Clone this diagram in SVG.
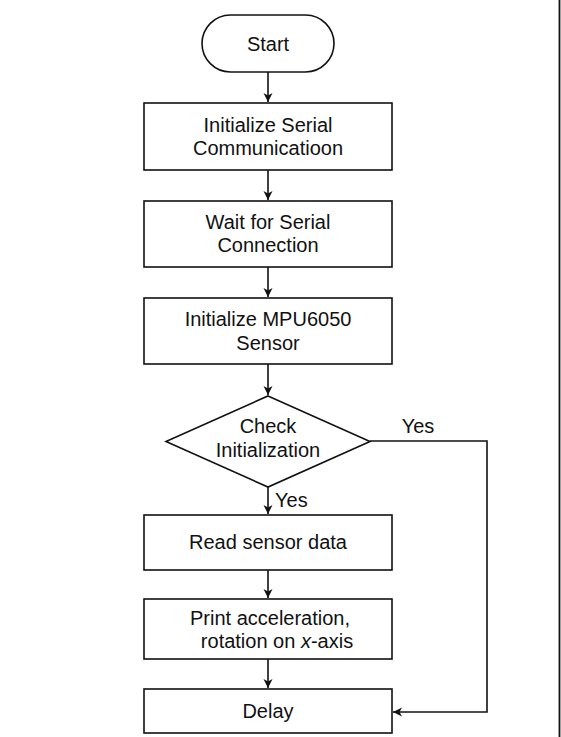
<svg xmlns="http://www.w3.org/2000/svg" width="561" height="737" viewBox="0 0 561 737">
<defs>
<marker id="arr" markerWidth="12" markerHeight="12" refX="10" refY="6" orient="auto" markerUnits="userSpaceOnUse">
<path d="M1,1.5 L10,6 L1,10.5 L3.5,6 Z" fill="#111"/>
</marker>
<style>
.box{fill:#fff;stroke:#111;stroke-width:1.6}
.t{font-family:"Liberation Sans",Arial,sans-serif;font-size:20px;fill:#111;text-anchor:middle}
.c{fill:none;stroke:#111;stroke-width:1.6}
</style>
</defs>
<rect width="561" height="737" fill="#fff"/>
<line x1="559.5" y1="0" x2="559.5" y2="737" stroke="#111" stroke-width="1.8"/>
<g id="connectors">
<line class="c" x1="268" y1="72" x2="268" y2="102" marker-end="url(#arr)"/>
<line class="c" x1="268" y1="170" x2="268" y2="200" marker-end="url(#arr)"/>
<line class="c" x1="268" y1="267" x2="268" y2="297" marker-end="url(#arr)"/>
<line class="c" x1="268" y1="364" x2="268" y2="395" marker-end="url(#arr)"/>
<line class="c" x1="268" y1="487" x2="268" y2="514" marker-end="url(#arr)"/>
<line class="c" x1="268" y1="570" x2="268" y2="598" marker-end="url(#arr)"/>
<line class="c" x1="268" y1="659" x2="268" y2="688" marker-end="url(#arr)"/>
<polyline class="c" points="370,441 487,441 487,712 393,712" marker-end="url(#arr)"/>
<text class="t" x="418" y="433">Yes</text>
<text class="t" x="275" y="507" style="text-anchor:start">Yes</text>
</g>
<g id="start">
<rect class="box" x="202" y="15" width="132" height="57" rx="28.5"/>
<text class="t" x="268" y="51">Start</text>
</g>
<g id="init-serial">
<rect class="box" x="144" y="103" width="248" height="67"/>
<text class="t" x="268" y="132">Initialize Serial</text>
<text class="t" x="268" y="155">Communicatioon</text>
</g>
<g id="wait-serial">
<rect class="box" x="144" y="201" width="248" height="66"/>
<text class="t" x="268" y="229">Wait for Serial</text>
<text class="t" x="268" y="252">Connection</text>
</g>
<g id="init-mpu">
<rect class="box" x="144" y="298" width="248" height="66"/>
<text class="t" x="268" y="326">Initialize MPU6050</text>
<text class="t" x="268" y="350">Sensor</text>
</g>
<g id="check">
<polygon class="box" points="268,396 370,441.5 268,487 166,441.5"/>
<text class="t" x="268" y="433">Check</text>
<text class="t" x="268" y="457">Initialization</text>
</g>
<g id="read">
<rect class="box" x="144" y="515" width="248" height="55"/>
<text class="t" x="268" y="549">Read sensor data</text>
</g>
<g id="print">
<rect class="box" x="144" y="599" width="248" height="60"/>
<text class="t" x="270" y="625">Print acceleration,</text>
<text class="t" x="277" y="648">rotation on <tspan font-style="italic">x</tspan>-axis</text>
</g>
<g id="delay">
<rect class="box" x="144" y="689" width="248" height="44"/>
<text class="t" x="268" y="718">Delay</text>
</g>
</svg>
